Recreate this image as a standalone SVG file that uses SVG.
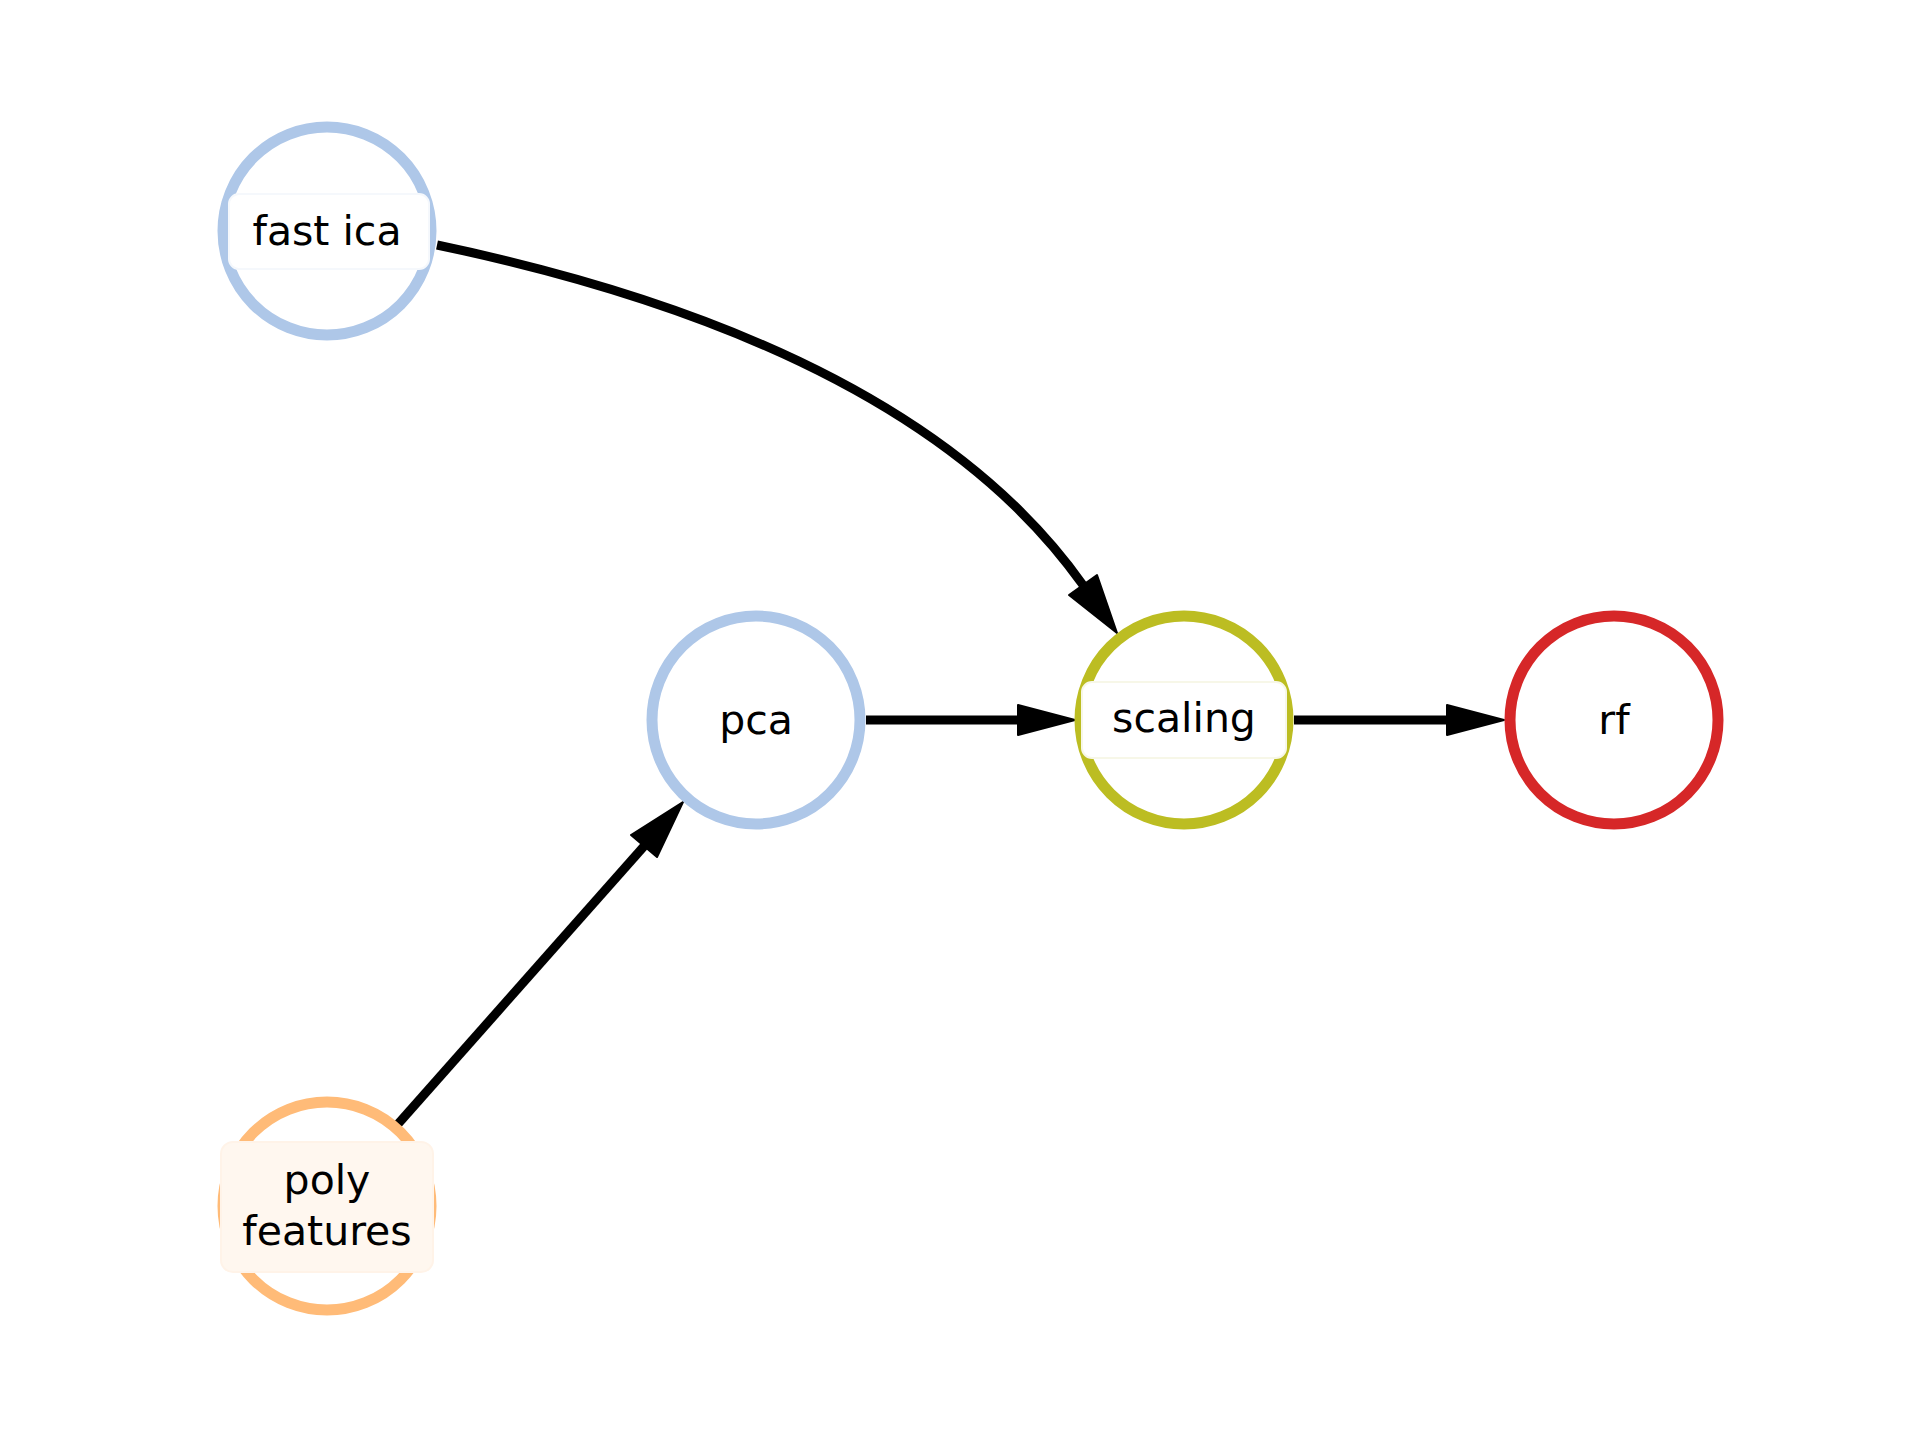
<svg xmlns="http://www.w3.org/2000/svg" width="1920" height="1440" viewBox="0 0 1920 1440">
<style>
.n{fill:#fff;stroke-width:11}
.t{font-family:"DejaVu Sans",sans-serif;font-size:41px;fill:#000;text-anchor:middle}
.e{fill:none;stroke:#000;stroke-width:9}
.h{fill:#000;stroke:#000;stroke-width:2;stroke-linejoin:round}
</style>
<rect width="1920" height="1440" fill="#fff"/>
<g id="edges">
<path class="e" d="M437,245 Q913,345 1083,585"/>
<polygon class="h" points="1117,633 1069,595 1097,575"/>
<line class="e" x1="866" y1="720" x2="1018" y2="720"/>
<polygon class="h" points="1075,720 1018,705 1018,735"/>
<line class="e" x1="1294" y1="720" x2="1447" y2="720"/>
<polygon class="h" points="1504,720 1447,705 1447,735"/>
<line class="e" x1="398" y1="1124" x2="646" y2="844"/>
<polygon class="h" points="683,802 657,857 631,835"/>
</g>
<g id="fast_ica">
<circle class="n" cx="327" cy="231" r="104" stroke="#aec7e8"/>
<rect x="229" y="194" width="200" height="75" rx="10" fill="#fff" stroke="#f5f8fc" stroke-width="2"/>
<text class="t" x="327" y="245">fast ica</text>
</g>
<g id="pca">
<circle class="n" cx="756" cy="720" r="104" stroke="#aec7e8"/>
<text class="t" x="756" y="734">pca</text>
</g>
<g id="scaling">
<circle class="n" cx="1184" cy="720" r="104" stroke="#bcbd22"/>
<rect x="1082" y="682" width="204" height="76" rx="10" fill="#fff" stroke="#f7f7e8" stroke-width="2"/>
<text class="t" x="1184" y="732">scaling</text>
</g>
<g id="rf">
<circle class="n" cx="1614" cy="720" r="104" stroke="#d62728"/>
<text class="t" x="1614" y="734">rf</text>
</g>
<g id="poly_features">
<circle class="n" cx="327" cy="1206" r="104" stroke="#ffbb78"/>
<rect x="221" y="1142" width="212" height="130" rx="12" fill="#fff7ef" stroke="#fff3e8" stroke-width="2"/>
<text class="t" x="327" y="1194">poly</text>
<text class="t" x="327" y="1245">features</text>
</g>
</svg>
